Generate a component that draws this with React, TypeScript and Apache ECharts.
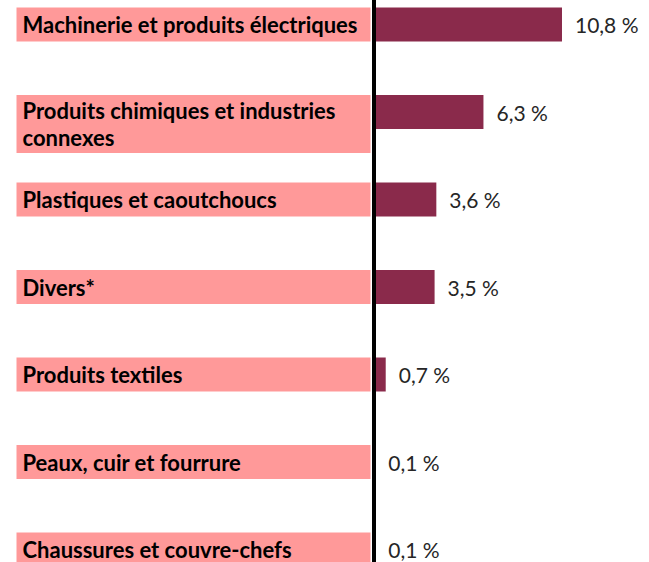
import React, { useEffect, useRef } from "react";
import * as echarts from "echarts";

const categories: string[] = [
  "Machinerie et produits électriques",
  "Produits chimiques et industries\nconnexes",
  "Plastiques et caoutchoucs",
  "Divers*",
  "Produits textiles",
  "Peaux, cuir et fourrure",
  "Chaussures et couvre-chefs",
];

const values: number[] = [10.8, 6.3, 3.6, 3.5, 0.7, 0.1, 0.1];

const BAR_H = 34;
const LABEL_W = 354;
const LINE_H = 27;
const PINK = "#FF9999";
const MAROON = "#8A2A4B";

export default function App() {
  const ref = useRef<HTMLDivElement>(null);

  useEffect(() => {
    if (!ref.current) return;
    const chart = echarts.init(ref.current, undefined, { renderer: "svg" });

    const renderLabel = (params: any, api: any) => {
      const idx = params.dataIndex;
      const p = api.coord([0, idx]);
      const text = categories[idx];
      const lines = text.split("\n").length;
      const top = p[1] - BAR_H / 2;
      const h = Math.max(BAR_H, lines * LINE_H + 4);
      const left = p[0] - LABEL_W - 3;
      return {
        type: "group",
        children: [
          {
            type: "rect",
            shape: { x: left, y: top, width: LABEL_W, height: h },
            style: { fill: PINK },
          },
          {
            type: "text",
            x: left + 6,
            y: top + h / 2,
            style: {
              text,
              fill: "#000",
              font: "bold 22px Lato",
              align: "left",
              verticalAlign: "middle",
              lineHeight: LINE_H,
            },
          },
        ],
      };
    };

    chart.setOption({
      animation: false,
      grid: {
        left: 373.5,
        right: 13.7,
        top: -19.25,
        bottom: -31.25,
        containLabel: false,
        outerBoundsMode: "none",
      },
      xAxis: {
        type: "value",
        min: 0,
        max: 15,
        show: false,
      },
      yAxis: {
        type: "category",
        inverse: true,
        data: categories,
        z: 10,
        axisLabel: { show: false },
        axisTick: { show: false },
        axisLine: { show: true, lineStyle: { color: "#000", width: 4 } },
        splitLine: { show: false },
      },
      series: [
        {
          type: "custom",
          renderItem: renderLabel,
          data: categories.map((_, i) => [0, i]),
          encode: { x: 0, y: 1 },
          clip: false,
          silent: true,
        },
        {
          type: "bar",
          data: values,
          barWidth: BAR_H,
          itemStyle: { color: MAROON },
          label: {
            show: true,
            position: "right",
            distance: 13,
            color: "#262626",
            fontFamily: "Lato",
            fontSize: 21,
            formatter: (p: any) => p.value.toFixed(1).replace(".", ",") + " %",
          },
        },
      ],
    });

    return () => chart.dispose();
  }, []);

  return (
    <div
      ref={ref}
      style={{ position: "fixed", left: 0, top: 0, width: 649, height: 562, background: "#fff" }}
    />
  );
}
